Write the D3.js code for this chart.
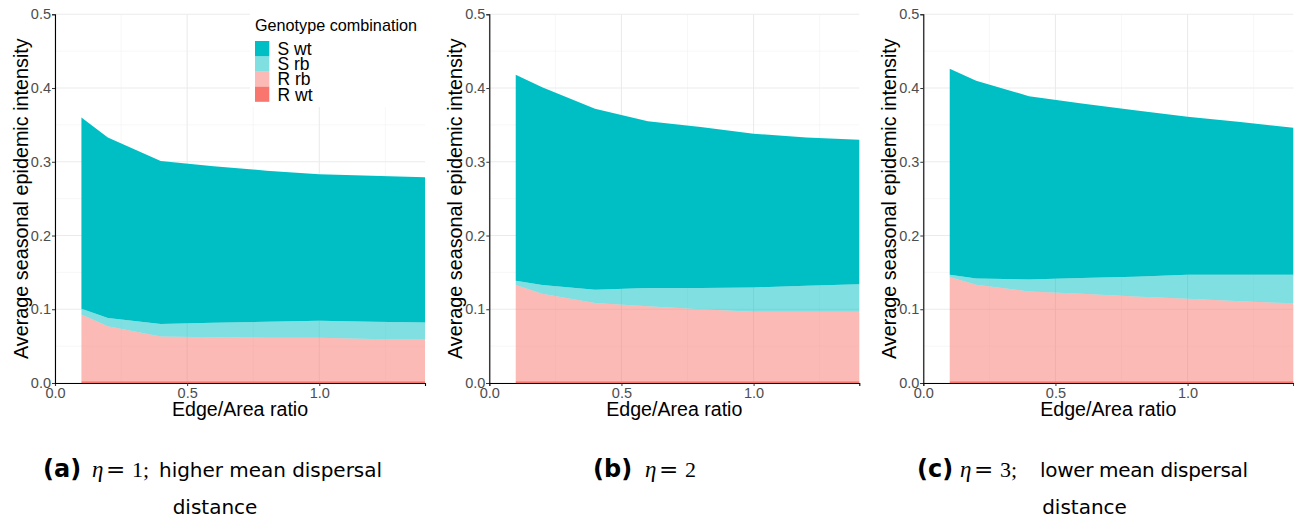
<!DOCTYPE html>
<html>
<head>
<meta charset="utf-8">
<script src="https://cdn.jsdelivr.net/npm/d3@7"></script>
<style>
  body { margin: 0; background: #fff; }
  svg { display: block; }
</style>
</head>
<body>
<script>
var width = 1294, height = 520;

// edge/area ratio values
var ratios = [0.1, 0.2, 0.4, 0.6, 0.8, 1.0, 1.2, 1.4];
var genotypes = ["S wt", "S rb", "R rb", "R wt"];

// layer contributions per genotype (stacked from R wt upward)
var rwtA = [0.0025, 0.0025, 0.0025, 0.0025, 0.0025, 0.0025, 0.0025, 0.0025];
var rrbA = [0.0905, 0.0743, 0.0607, 0.0595, 0.0590, 0.0590, 0.0572, 0.0565];
var srbA = [0.0077, 0.0112, 0.0168, 0.0197, 0.0215, 0.0230, 0.0233, 0.0230];
var swtA = [0.2593, 0.2450, 0.2210, 0.2123, 0.2050, 0.1985, 0.1980, 0.1970];

var rwtB = [0.0025, 0.0025, 0.0025, 0.0025, 0.0025, 0.0025, 0.0025, 0.0025];
var rrbB = [0.1305, 0.1185, 0.1059, 0.1015, 0.0975, 0.0942, 0.0942, 0.0942];
var srbB = [0.0057, 0.0120, 0.0181, 0.0247, 0.0290, 0.0329, 0.0353, 0.0373];
var swtB = [0.2793, 0.2680, 0.2455, 0.2263, 0.2180, 0.2084, 0.2010, 0.1960];

var rwtC = [0.0025, 0.0025, 0.0025, 0.0025, 0.0025, 0.0025, 0.0025, 0.0025];
var rrbC = [0.1411, 0.1307, 0.1217, 0.1185, 0.1149, 0.1118, 0.1085, 0.1055];
var srbC = [0.0032, 0.0086, 0.0163, 0.0213, 0.0266, 0.0325, 0.0358, 0.0388];
var swtC = [0.2792, 0.2682, 0.2485, 0.2367, 0.2260, 0.2142, 0.2072, 0.1992];

var xTicks = [0, 0.5, 1.0];
var yTicks = [0, 0.1, 0.2, 0.3, 0.4, 0.5];

var fills = {"S wt": "#00BFC4", "S rb": "#00BFC4", "R rb": "#F8766D", "R wt": "#F8766D"};
var alphas = {"S wt": 1, "S rb": 0.5, "R rb": 0.5, "R wt": 1};

var panels = [
  {x0: 55, rwt: rwtA, rrb: rrbA, srb: srbA, swt: swtA, legend: true},
  {x0: 489.3, rwt: rwtB, rrb: rrbB, srb: srbB, swt: swtB, legend: false},
  {x0: 923.3, rwt: rwtC, rrb: rrbC, srb: srbC, swt: swtC, legend: false}
];

var plotW = 370, plotH = 368.7, plotTop = 14.3;
var sans = "Liberation Sans, Arial, sans-serif";

var svg = d3.select("body").append("svg")
    .attr("width", width)
    .attr("height", height);

panels.forEach(function(p){
  var g = svg.append("g").attr("transform", "translate(" + p.x0 + "," + plotTop + ")");
  var x = d3.scaleLinear().domain([0, 1.4]).range([0, plotW]);
  var y = d3.scaleLinear().domain([0, 0.5]).range([plotH, 0]);

  // grid: minor then major
  [0.05, 0.15, 0.25, 0.35, 0.45].forEach(function(v){
    g.append("line").attr("x1", 0).attr("x2", plotW).attr("y1", y(v)).attr("y2", y(v))
      .attr("stroke", "#f2f2f2").attr("stroke-width", 0.6);
  });
  [0.25, 0.75, 1.25].forEach(function(v){
    g.append("line").attr("x1", x(v)).attr("x2", x(v)).attr("y1", 0).attr("y2", plotH)
      .attr("stroke", "#f2f2f2").attr("stroke-width", 0.6);
  });
  yTicks.forEach(function(v){
    g.append("line").attr("x1", 0).attr("x2", plotW).attr("y1", y(v)).attr("y2", y(v))
      .attr("stroke", "#ebebeb").attr("stroke-width", 1.1);
  });
  xTicks.forEach(function(v){
    g.append("line").attr("x1", x(v)).attr("x2", x(v)).attr("y1", 0).attr("y2", plotH)
      .attr("stroke", "#ebebeb").attr("stroke-width", 1.1);
  });

  var rows = ratios.map(function(r, i){
    return {ratio: r, "R wt": p.rwt[i], "R rb": p.rrb[i], "S rb": p.srb[i], "S wt": p.swt[i]};
  });
  var stack = d3.stack().keys(["R wt", "R rb", "S rb", "S wt"]);
  var layers = stack(rows);
  var area = d3.area()
      .x(function(d){ return x(d.data.ratio); })
      .y0(function(d){ return y(d[0]); })
      .y1(function(d){ return y(d[1]); });

  g.selectAll("path.layer").data(layers).enter().append("path")
    .attr("class", "layer")
    .attr("d", area)
    .attr("fill", function(d){ return fills[d.key]; })
    .attr("fill-opacity", function(d){ return alphas[d.key]; });

  // legend (panel a)
  if (p.legend) {
    var lg = svg.append("g").attr("transform", "translate(250,0)");
    lg.append("rect").attr("x", 0).attr("y", 4).attr("width", 190).attr("height", 103).attr("fill", "#fff");
    lg.append("text").attr("x", 5).attr("y", 31).text("Genotype combination")
      .attr("font-family", sans).attr("font-size", 16.2).attr("fill", "#000");
    genotypes.forEach(function(k, i){
      lg.append("rect").attr("x", 5).attr("y", 41 + i * 15.2).attr("width", 14.3).attr("height", 15.2)
        .attr("fill", fills[k]).attr("fill-opacity", alphas[k]);
      lg.append("text").attr("x", 27.5).attr("y", 55 + i * 15.2).text(k)
        .attr("font-family", sans).attr("font-size", 17.5).attr("fill", "#000");
    });
  }

  // axes
  var xa = g.append("g").attr("transform", "translate(0," + plotH + ")")
    .call(d3.axisBottom(x).tickValues(xTicks).tickFormat(d3.format(".1f")).tickSize(3).tickPadding(2));
  var ya = g.append("g")
    .call(d3.axisLeft(y).tickValues(yTicks).tickFormat(d3.format(".1f")).tickSize(3).tickPadding(1));
  [xa, ya].forEach(function(a){
    a.select(".domain").attr("stroke", "#000").attr("stroke-width", 1.1);
    a.selectAll(".tick line").attr("stroke", "#333");
    a.selectAll(".tick text").attr("fill", "#4d4d4d")
      .attr("font-family", sans).attr("font-size", 14.5);
  });

  g.append("text").attr("x", plotW / 2).attr("y", plotH + 33).attr("text-anchor", "middle")
    .text("Edge/Area ratio")
    .attr("font-family", sans).attr("font-size", 19.6);
  g.append("text").attr("transform", "translate(-27," + (plotH / 2) + ") rotate(-90)")
    .attr("text-anchor", "middle")
    .text("Average seasonal epidemic intensity")
    .attr("font-family", sans).attr("font-size", 19.8);
});

// captions
var capSans = "DejaVu Sans, sans-serif";
var capSerif = "Liberation Serif, DejaVu Serif, serif";
var captions = [
  {x: 43, eta: 92, label: "(a)", num: "1;", rest: "higher mean dispersal", restX: 159, restW: 223, second: "distance", sx: 215},
  {x: 593, eta: 645, label: "(b)", num: "2", rest: "", second: ""},
  {x: 917, eta: 960, label: "(c)", num: "3;", rest: "lower mean dispersal", restX: 1040, restW: 208, second: "distance", sx: 1084.5}
];
captions.forEach(function(c){
  var base = 477;
  svg.append("text").attr("x", c.x).attr("y", base)
    .attr("font-family", capSans).attr("font-weight", "bold").attr("font-size", 24).text(c.label);
  svg.append("text").attr("x", c.eta).attr("y", base)
    .attr("font-family", capSerif).attr("font-style", "italic").attr("font-size", 23).text("\u03b7");
  svg.append("text").attr("x", c.eta + 14).attr("y", base)
    .attr("font-family", "DejaVu Serif, serif").attr("font-size", 23).text("=");
  svg.append("text").attr("x", c.eta + 40).attr("y", base)
    .attr("font-family", capSerif).attr("font-size", 22).text(c.num);
  if (c.rest) {
    svg.append("text").attr("x", c.restX).attr("y", base)
      .attr("font-family", capSans).attr("font-size", 20)
      .attr("textLength", c.restW).attr("lengthAdjust", "spacing").text(c.rest);
  }
  if (c.second) {
    svg.append("text").attr("x", c.sx).attr("y", 514).attr("text-anchor", "middle")
      .attr("font-family", capSans).attr("font-size", 20).text(c.second);
  }
});
</script>
</body>
</html>
